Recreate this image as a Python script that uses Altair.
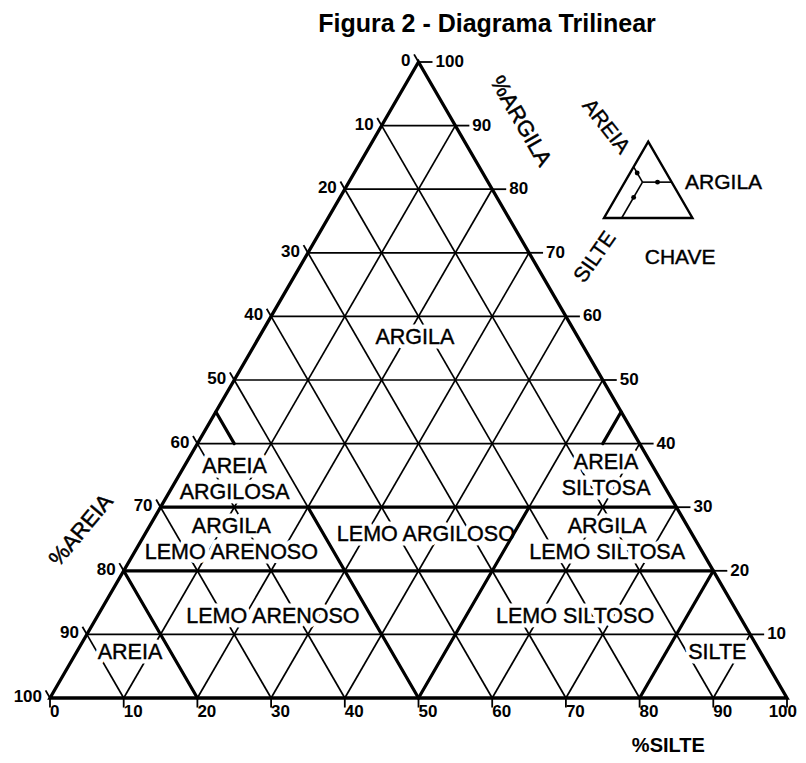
import altair as alt
import pandas as pd

# ------------------------------------------------------------------ data
grid_levels = [10, 20, 30, 40, 50, 60, 70, 80, 90]
tick_values = [0, 10, 20, 30, 40, 50, 60, 70, 80, 90, 100]

# thick class boundaries, end points given as (% silte, % argila)
bnd_silte_a = [0, 0, 50, 50, 20, 80, 0, 55]
bnd_argila_a = [20, 30, 0, 0, 0, 0, 45, 40]
bnd_silte_b = [80, 70, 20, 50, 0, 80, 5, 55]
bnd_argila_b = [20, 30, 30, 30, 20, 20, 40, 45]

# textural classes and where their names sit (% silte, % argila)
class_labels = ["ARGILA", "AREIA\nARGILOSA", "ARGILA\nLEMO ARENOSO", "LEMO ARGILOSO",
                "AREIA\nSILTOSA", "ARGILA\nLEMO SILTOSA", "LEMO ARENOSO",
                "LEMO SILTOSO", "AREIA", "SILTE"]
class_silte = [21.2, 7.9, 12.2, 38.2, 58.0, 63.2, 23.9, 64.9, 7.3, 87.0]
class_argila = [56.6, 34.3, 24.8, 25.6, 34.9, 24.8, 12.7, 12.7, 7.1, 7.1]

title_text = "Figura 2 - Diagrama Trilinear"

axis_titles = ["%ARGILA", "%AREIA"]
axis_title_x = [63.9, 4.2]
axis_title_y = [90.7, 26.4]
axis_title_angle = [60, 310]
silte_title = "%SILTE"

# key ("CHAVE"): example point read in the small triangle (% silte, % argila)
key_point = [20, 47]
key_dot_silte = [37, 8, 20]
key_dot_argila = [47, 59, 27]
key_labels = ["AREIA", "ARGILA", "SILTE", "CHAVE"]
key_label_x = [75.4, 91.4, 74.0, 85.5]
key_label_y = [89.8, 81.0, 69.3, 69.2]
key_label_angle = [52, 0, 305, 0]

# ------------------------------------------------------------------ layout
W, H = 790, 747
PX_X, PX_Y = 7.37, 6.36      # pixels per percent unit
OX, OY = 42, 690             # pixel position of the 100 % areia corner
x_dom = [-OX / PX_X, (W - OX) / PX_X]
y_dom = [(OY - H) / PX_Y, OY / PX_Y]
KEY_X0, KEY_Y0, KEY_S = 75.17, 75.47, 0.12
LINE_H = 26 / PX_Y           # line spacing of two-line class names, in y units

FONT = "Liberation Sans"

xs = alt.Scale(domain=x_dom, nice=False, zero=False)
ys = alt.Scale(domain=y_dom, nice=False, zero=False)
X = alt.X("x:Q", scale=xs, axis=None)
Y = alt.Y("y:Q", scale=ys, axis=None)


def tx(silte, argila):
    return silte + argila / 2.0, argila


def key_tx(silte, argila):
    x, y = tx(silte, argila)
    return KEY_X0 + KEY_S * x, KEY_Y0 + KEY_S * y


def seg(a, b, f=tx):
    x1, y1 = f(*a)
    x2, y2 = f(*b)
    return {"x": x1, "y": y1, "x2": x2, "y2": y2}


# thin grid
grid_rows = []
for v in grid_levels:
    grid_rows.append(seg((0, v), (100 - v, v)))          # argila constant
    grid_rows.append(seg((v, 0), (v, 100 - v)))          # silte constant
    grid_rows.append(seg((100 - v, 0), (0, 100 - v)))    # areia constant
grid_df = pd.DataFrame(grid_rows)

bnd_df = pd.DataFrame([seg((a, b), (c, d)) for a, b, c, d in
                       zip(bnd_silte_a, bnd_argila_a, bnd_silte_b, bnd_argila_b)])

corners = [(0, 0), (100, 0), (0, 100), (0, 0), (100, 0)]
edge_df = pd.DataFrame([{"x": tx(*c)[0], "y": tx(*c)[1], "o": i} for i, c in enumerate(corners)])

# ticks
tick_rows = []
right_lab, left_lab, bottom_lab = [], [], []
for v in tick_values:
    # right axis (argila)
    x0, y0 = tx(100 - v, v)
    if v > 0:
        tick_rows.append({"x": x0, "y": y0, "x2": x0 + 1.9, "y2": y0})
        right_lab.append({"x": x0 + 1.9, "y": y0, "t": str(v)})
    # left axis (areia)
    xl, yl = tx(0, 100 - v)
    xe, ye = tx(-1.2, 100 - v + 1.2)
    tick_rows.append({"x": xl, "y": yl, "x2": xe, "y2": ye})
    left_lab.append({"x": xl, "y": yl, "t": str(v)})
    # bottom axis (silte)
    xb, yb = tx(v, 0)
    xb2, yb2 = tx(v + 0.75, -1.5)
    tick_rows.append({"x": xb, "y": yb, "x2": xb2, "y2": yb2})
    bottom_lab.append({"x": xb, "y": yb, "t": str(v)})
tick_df = pd.DataFrame(tick_rows)

# class names, one row per text line, block centred on the given point
cls_rows = []
for lab, s, a in zip(class_labels, class_silte, class_argila):
    cx, cy = tx(s, a)
    lines = lab.split("\n")
    n = len(lines)
    for i, ln in enumerate(lines):
        cls_rows.append({"x": cx, "y": cy + ((n - 1) / 2.0 - i) * LINE_H, "t": ln})
cls_df = pd.DataFrame(cls_rows)

# key
key_edge_df = pd.DataFrame([{"x": key_tx(*c)[0], "y": key_tx(*c)[1], "o": i}
                            for i, c in enumerate(corners)])
ps, pa = key_point
key_line_df = pd.DataFrame([
    seg((ps, pa), (100 - pa, pa), key_tx),   # to argila side
    seg((ps, pa), (0, pa + ps), key_tx),     # to areia side
    seg((ps, pa), (ps, 0), key_tx),          # to silte side
])
key_dot_df = pd.DataFrame([{"x": key_tx(s, a)[0], "y": key_tx(s, a)[1]}
                           for s, a in zip(key_dot_silte, key_dot_argila)])
key_lab_df = pd.DataFrame({"x": key_label_x, "y": key_label_y,
                           "t": key_labels, "ang": key_label_angle})

ax_df = pd.DataFrame({"x": axis_title_x, "y": axis_title_y,
                      "t": axis_titles, "ang": axis_title_angle})
silte_df = pd.DataFrame({"x": [83.9], "y": [-7.6], "t": [silte_title]})
title_df = pd.DataFrame({"x": [59.3], "y": [105.9], "t": [title_text]})

# ------------------------------------------------------------------ layers
def rules(df, w, cap="butt"):
    return alt.Chart(df).mark_rule(color="black", strokeWidth=w, strokeCap=cap).encode(
        x=X, y=Y, x2="x2:Q", y2="y2:Q")


grid = rules(grid_df, 1.7)
bounds = rules(bnd_df, 3.2, "round")
ticks = rules(tick_df, 1.8)

edges = alt.Chart(edge_df).mark_line(color="black", strokeWidth=3.3, strokeJoin="miter").encode(
    x=X, y=Y, order="o:Q")

cls_kw = dict(font=FONT, fontSize=21.5, align="center", baseline="middle")
cls_halo = alt.Chart(cls_df).mark_text(color="white", stroke="white", strokeWidth=9,
                                       strokeJoin="round", **cls_kw).encode(x=X, y=Y, text="t:N")
cls_text = alt.Chart(cls_df).mark_text(color="black", stroke="black", strokeWidth=0.4,
                                       **cls_kw).encode(x=X, y=Y, text="t:N")

num_kw = dict(font=FONT, fontSize=17, fontWeight="bold", color="black", baseline="middle")
right_txt = alt.Chart(pd.DataFrame(right_lab)).mark_text(align="left", dx=3, **num_kw).encode(
    x=X, y=Y, text="t:N")
left_txt = alt.Chart(pd.DataFrame(left_lab)).mark_text(align="right", dx=-8, dy=-1, **num_kw).encode(
    x=X, y=Y, text="t:N")
bottom_txt = alt.Chart(pd.DataFrame(bottom_lab[:-1])).mark_text(align="left", dx=0, dy=14, **num_kw).encode(
    x=X, y=Y, text="t:N")
# the last label sits at the page edge: keep it whole
bottom_last = alt.Chart(pd.DataFrame(bottom_lab[-1:])).mark_text(align="right", dx=10, dy=14, **num_kw).encode(
    x=X, y=Y, text="t:N")

ax_txt = alt.Chart(ax_df).mark_text(font=FONT, fontSize=22, color="black", stroke="black",
                                    strokeWidth=0.5, align="center", baseline="middle").encode(
    x=X, y=Y, text="t:N", angle=alt.Angle("ang:Q", scale=None))
silte_txt = alt.Chart(silte_df).mark_text(font=FONT, fontSize=20, fontWeight="bold", color="black",
                                          align="center", baseline="middle").encode(
    x=X, y=Y, text="t:N")
title_txt = alt.Chart(title_df).mark_text(font=FONT, fontSize=25, fontWeight="bold", color="black",
                                          align="center", baseline="middle").encode(
    x=X, y=Y, text="t:N")

key_edges = alt.Chart(key_edge_df).mark_line(color="black", strokeWidth=2.4, strokeJoin="miter").encode(
    x=X, y=Y, order="o:Q")
key_lines = rules(key_line_df, 1.6)
key_dots = alt.Chart(key_dot_df).mark_point(filled=True, color="black", size=24, opacity=1).encode(x=X, y=Y)
key_txt = alt.Chart(key_lab_df).mark_text(font=FONT, fontSize=21, color="black", stroke="black",
                                          strokeWidth=0.4, align="center", baseline="middle").encode(
    x=X, y=Y, text="t:N", angle=alt.Angle("ang:Q", scale=None))

chart = alt.layer(
    grid, cls_halo, bounds, edges, ticks, cls_text,
    right_txt, left_txt, bottom_txt, bottom_last, ax_txt, silte_txt, title_txt,
    key_edges, key_lines, key_dots, key_txt,
).properties(
    width=W, height=H, autosize=alt.AutoSizeParams(type="none"), padding=0, background="white"
).configure_view(strokeWidth=0)

chart.save("out.html", embed_options={"renderer": "svg", "actions": False})
